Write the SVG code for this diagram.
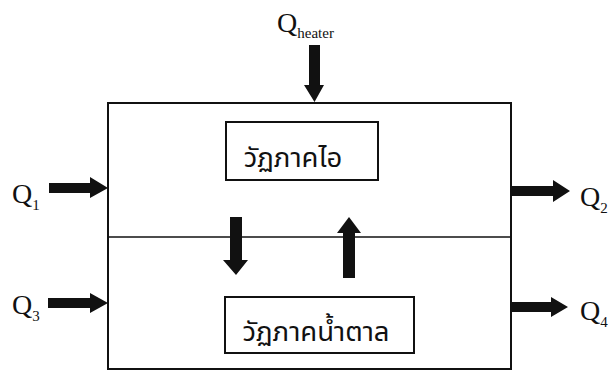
<svg xmlns="http://www.w3.org/2000/svg" width="609" height="372" viewBox="0 0 609 372">
<style>
.box{fill:none;stroke:#111;stroke-width:2}
.ln{fill:none;stroke:#111;stroke-width:1.6}
.q{font-family:"Liberation Serif","Times New Roman",serif;font-size:28px;fill:#111}
.sub{font-size:15px}
.th{font-family:"Noto Sans Thai","Noto Sans","Liberation Sans",sans-serif;font-size:27.5px;fill:#111;text-anchor:middle}
.arr{fill:#111}
</style>
<rect width="609" height="372" fill="#fff"/>
<g id="outer">
<rect class="box" x="108" y="103" width="403" height="266"/>
<line class="ln" x1="108" y1="237" x2="511" y2="237"/>
</g>
<g id="vapor">
<rect class="box" x="226" y="122" width="152" height="58"/>
<text class="th" x="293" y="167">วัฏภาคไอ</text>
</g>
<g id="liquid">
<rect class="box" x="225" y="297" width="189" height="56"/>
<text class="th" x="316" y="341">วัฏภาคน้ำตาล</text>
</g>
<g id="labels">
<text class="q" x="277" y="32">Q<tspan class="sub" dy="6" font-size="14">heater</tspan></text>
<text class="q" x="12" y="203">Q<tspan class="sub" dy="7">1</tspan></text>
<text class="q" x="580" y="206">Q<tspan class="sub" dy="7">2</tspan></text>
<text class="q" x="12" y="314">Q<tspan class="sub" dy="7">3</tspan></text>
<text class="q" x="580" y="320">Q<tspan class="sub" dy="7">4</tspan></text>
</g>
<g id="connectors">
<polygon class="arr" points="309,45 320,45 320,85 324,85 314.5,102 304,85 309,85"/>
<polygon class="arr" points="49,183 90,183 90,177 108,188 90,198 90,193 49,193"/>
<polygon class="arr" points="512,186 553,186 553,180 570,191 553,202 553,196 512,196"/>
<polygon class="arr" points="48,298 90,298 90,293 108,303 90,313 90,308 48,308"/>
<polygon class="arr" points="512,302 551,302 551,297 568,307 551,317 551,312 512,312"/>
<polygon class="arr" points="230,217 242,217 242,260 248,260 236,275 223,260 230,260"/>
<polygon class="arr" points="343,278 355,278 355,233 361,233 349,217 337,233 343,233"/>
</g>
</svg>
